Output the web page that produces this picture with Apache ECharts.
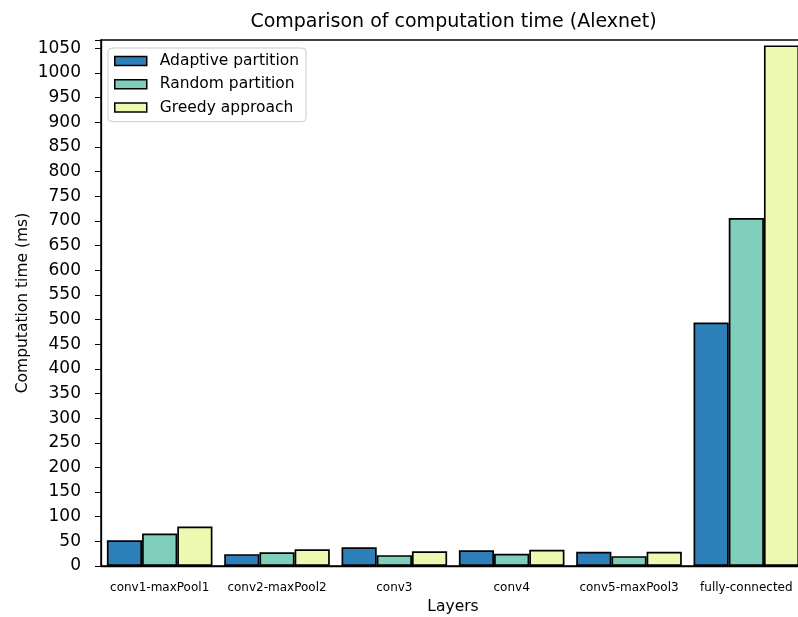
<!DOCTYPE html>
<html>
<head>
<meta charset="utf-8">
<script src="https://cdn.jsdelivr.net/npm/echarts@6/dist/echarts.min.js"></script>
<style>
  html, body { margin: 0; padding: 0; background: #ffffff; }
  #chart { width: 798px; height: 617px; }
</style>
</head>
<body>
<div id="chart"></div>
<script>
// Layers of AlexNet and computation time (ms) for each partitioning strategy
const layers = ['conv1-maxPool1', 'conv2-maxPool2', 'conv3', 'conv4', 'conv5-maxPool3', 'fully-connected'];
const adaptivePartition = [52, 24, 38, 32, 29, 494];
const randomPartition = [66, 28, 22, 25, 20, 706];
const greedyApproach = [80, 34, 30, 33, 29, 1056];

const seriesNames = ['Adaptive partition', 'Random partition', 'Greedy approach'];
const seriesColors = ['#2c7fb8', '#7fcdbb', '#edf8b1'];
const seriesData = [adaptivePartition, randomPartition, greedyApproach];

const FONT = 'DejaVu Sans';
const chart = echarts.init(document.getElementById('chart'), null, { renderer: 'canvas' });

chart.setOption({
  animation: false,
  backgroundColor: '#ffffff',
  grid: {
    left: 101, right: -7, top: 40, bottom: 51,
    outerBoundsMode: 'none',
    containLabel: false,
    show: true, borderColor: '#000000', borderWidth: 1.5, backgroundColor: 'transparent'
  },
  graphic: [{
    type: 'text',
    x: 453.5, y: 22,
    style: {
      text: 'Comparison of computation time (Alexnet)',
      fontFamily: FONT, fontSize: 19, fill: '#000000',
      textAlign: 'center', textVerticalAlign: 'middle'
    }
  }],
  legend: {
    left: 108, top: 48,
    orient: 'vertical',
    itemWidth: 32, itemHeight: 9, itemGap: 5.3,
    padding: [4, 7, 5, 6],
    backgroundColor: '#ffffff',
    borderColor: '#cccccc', borderWidth: 1, borderRadius: 4,
    icon: 'rect',
    itemStyle: { borderColor: '#000000', borderWidth: 1.5 },
    textStyle: { fontFamily: FONT, fontSize: 15.5, color: '#000000', lineHeight: 18, padding: [0, 0, 0, 8] },
    data: seriesNames
  },
  xAxis: {
    type: 'category',
    data: layers,
    boundaryGap: true,
    name: 'Layers',
    nameLocation: 'middle',
    nameGap: 33,
    nameMoveOverlap: false,
    nameTextStyle: { fontFamily: FONT, fontSize: 15.5, color: '#000000' },
    axisLine: { lineStyle: { color: '#000000', width: 1.3 } },
    axisTick: { alignWithLabel: true, length: 6, lineStyle: { color: '#000000', width: 1 } },
    axisLabel: { fontFamily: FONT, fontSize: 12, color: '#000000', margin: 16, interval: 0 },
    splitLine: { show: false }
  },
  yAxis: {
    type: 'value',
    min: 0, max: 1067, interval: 50,
    name: 'Computation time (ms)',
    nameLocation: 'middle',
    nameGap: 70,
    nameMoveOverlap: false,
    nameTextStyle: { fontFamily: FONT, fontSize: 15.5, color: '#000000' },
    axisLine: { show: true, lineStyle: { color: '#000000', width: 1.3 } },
    axisTick: { show: true, length: 6, lineStyle: { color: '#000000', width: 1 } },
    axisLabel: {
      fontFamily: FONT, fontSize: 17, color: '#000000', margin: 20,
      formatter: v => (v % 50 === 0 ? String(v) : '')
    },
    splitLine: { show: false }
  },
  series: seriesNames.map((name, i) => ({
    name,
    type: 'bar',
    data: seriesData[i],
    barGap: '0%',
    barCategoryGap: '10%',
    itemStyle: { color: seriesColors[i], borderColor: '#000000', borderWidth: 1.7 }
  }))
});
</script>
</body>
</html>
